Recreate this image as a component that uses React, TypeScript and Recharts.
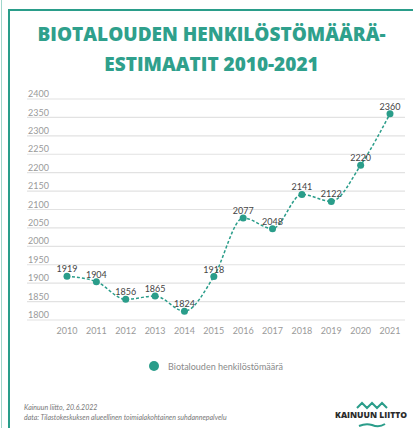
import { CartesianGrid, LabelList, Legend, Line, LineChart, XAxis, YAxis } from "recharts";

const years = ["2010", "2011", "2012", "2013", "2014", "2015", "2016", "2017", "2018", "2019", "2020", "2021"];
const staff = [1919, 1904, 1856, 1865, 1824, 1918, 2077, 2048, 2141, 2122, 2220, 2360];
const yTicks = [1800, 1850, 1900, 1950, 2000, 2050, 2100, 2150, 2200, 2250, 2300, 2350, 2400];

const TEAL = "#2a9d8a";
const FONT = "Lato, 'Open Sans', sans-serif";

const data = years.map((year, i) => ({ year, value: staff[i] }));

function YTick(props: any) {
  const { y, payload } = props;
  return (
    <text x={28} y={y - 5} dy="0.35em" textAnchor="start" fontSize={9} fill="#9a9a9a" fontFamily={FONT}>
      {payload.value}
    </text>
  );
}

function LegendContent() {
  return (
    <div style={{ display: "flex", justifyContent: "center", alignItems: "center", fontFamily: FONT }}>
      <svg width={12} height={12} style={{ marginRight: 8 }}>
        <circle cx={6} cy={6} r={5} fill={TEAL} />
      </svg>
      <span style={{ fontSize: 9, color: "#8a8a8a" }}>Biotalouden henkilöstömäärä</span>
    </div>
  );
}

export default function App() {
  return (
    <div style={{ position: "absolute", left: 0, top: 0, width: 413, height: 428, background: "#fff", overflow: "hidden" }}>
      <div style={{ position: "absolute", left: 1, top: 0, width: 1, height: 428, background: "#9fd6cb" }} />
      <div style={{ position: "absolute", left: 8, top: 9, width: 2, height: 419, background: TEAL }} />
      <div style={{ position: "absolute", left: 8, top: 9, width: 405, height: 2, background: TEAL }} />
      <div
        style={{
          position: "absolute",
          left: 10,
          top: 19,
          width: 403,
          textAlign: "center",
          color: "#2fa08c",
          fontFamily: "'Open Sans', sans-serif",
          fontWeight: 800,
          fontSize: 19,
          lineHeight: "30px",
        }}
      >
        BIOTALOUDEN HENKILÖSTÖMÄÄRÄ-
        <br />
        ESTIMAATIT 2010-2021
      </div>
      <LineChart width={413} height={428} data={data} margin={{ top: 99, right: 8, bottom: 66, left: 26 }} style={{ position: "absolute", left: 0, top: 0 }}>
        <CartesianGrid vertical={false} stroke="#e2e2e2" strokeWidth={1.2} />
        <XAxis
          dataKey="year"
          axisLine={false}
          tickLine={false}
          padding={{ left: 40, right: 15 }}
          height={30}
          interval={0}
          tick={{ fontSize: 9, fill: "#9a9a9a", fontFamily: FONT }}
          tickMargin={2}
        />
        <YAxis domain={[1800, 2400]} ticks={yTicks} width={1} axisLine={false} tickLine={false} tick={<YTick />} interval={0} />
        <Legend content={<LegendContent />} wrapperStyle={{ top: 360 }} />
        <Line
          type="monotone"
          dataKey="value"
          name="Biotalouden henkilöstömäärä"
          stroke={TEAL}
          strokeWidth={1.5}
          strokeDasharray="3 2"
          dot={{ r: 3.5, fill: TEAL, stroke: "none" }}
          isAnimationActive={false}
        >
          <LabelList dataKey="value" position="top" offset={4} fontSize={9} fill="#444" fontFamily={FONT} />
        </Line>
      </LineChart>
      <div style={{ position: "absolute", left: 24, top: 402, fontFamily: FONT, fontStyle: "italic", fontSize: 7, color: "#777", lineHeight: "10px" }}>
        Kainuun liitto, 20.6.2022
        <br />
        data: Tilastokeskuksen alueellinen toimialakohtainen suhdannepalvelu
      </div>
      <svg style={{ position: "absolute", left: 330, top: 398 }} width={80} height={30}>
        <polyline points="27,10 32,5 37,10 42,5 47,10 52,5 57,10" fill="none" stroke={TEAL} strokeWidth={2} />
        <text x={41} y={20} textAnchor="middle" fontSize={8.5} fontWeight={900} fill="#2b2b2b" fontFamily="'Open Sans', sans-serif">
          KAINUUN LIITTO
        </text>
        <path d="M29,28 Q36,25 42,27 Q49,30 55,26" fill="none" stroke={TEAL} strokeWidth={2} />
      </svg>
    </div>
  );
}
